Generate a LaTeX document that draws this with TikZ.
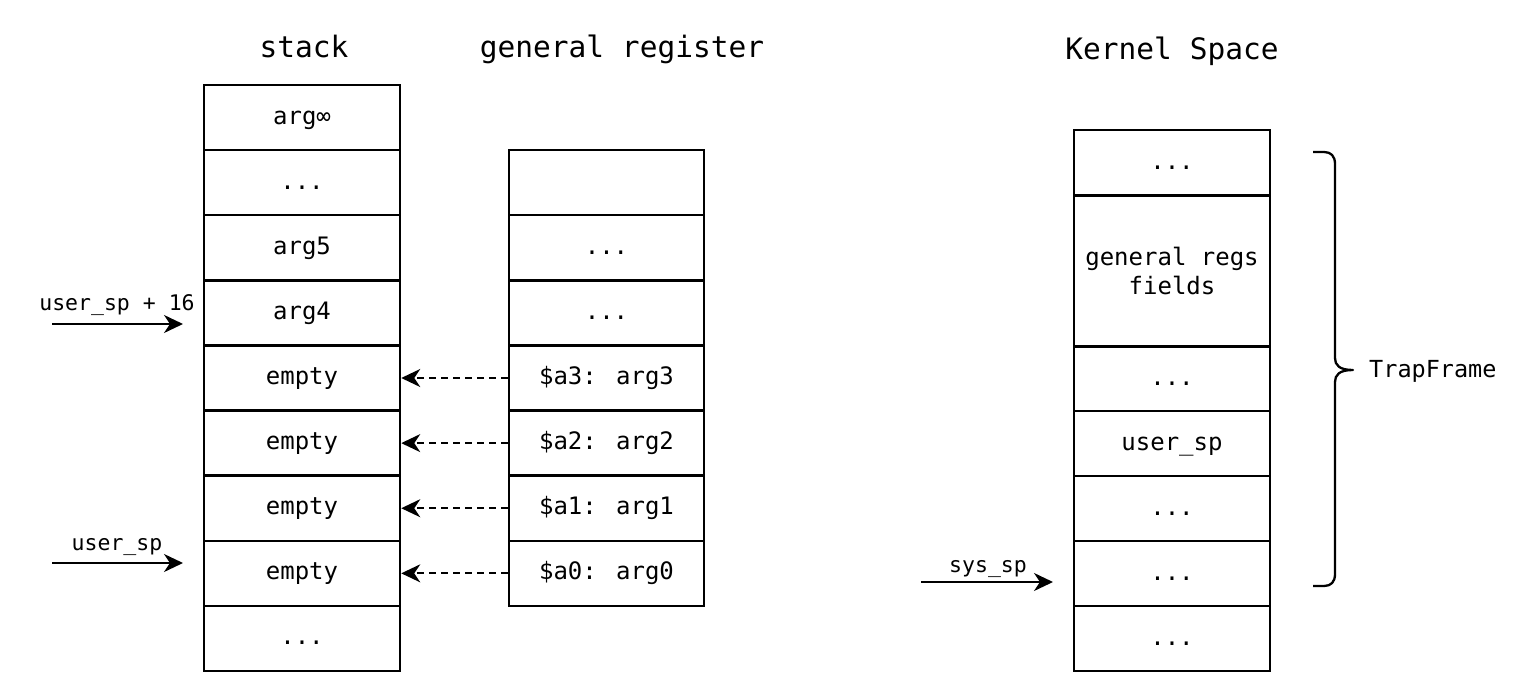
\documentclass[tikz,border=0pt]{standalone}
\usepackage{fontspec}
\setmainfont{DejaVu Sans Mono}
\usetikzlibrary{arrows.meta}
\newcommand\mydots{...}
\tikzset{
  cell/.style={draw, line width=2.5pt, minimum width=196pt, inner sep=0pt, font=\fontsize{24}{29}\selectfont, align=center},
  one/.style={text height=13pt, text depth=0pt},
  ttl/.style={inner sep=0pt, anchor=base, font=\fontsize{29.5}{34}\selectfont},
  lbl/.style={inner sep=0pt, anchor=base, font=\fontsize{21.5}{26}\selectfont},
  ptr/.style={line width=2.3pt, -{Stealth[length=19pt,width=18pt,inset=6pt]}},
  dptr/.style={line width=2pt, dash pattern=on 7pt off 5pt, -{Stealth[length=19pt,width=18pt,inset=6pt]}},
}
\begin{document}
\begin{tikzpicture}[x=1pt,y=-1pt]
\useasboundingbox (0,0) rectangle (1535,681);
\def\rh{65.11}
% titles
\node[ttl] (tstack) at (304,57) {stack};
\node[ttl] (treg) at (622,57) {general register};
\node[ttl] (tkern) at (1172,59) {Kernel Space};
% stack column
\foreach \i/\t in {0/{arg∞},1/{\mydots},2/{arg5},3/{arg4},4/{empty},5/{empty},6/{empty},7/{empty},8/{\mydots}}{
  \node[cell, one, minimum height=\rh pt] (s\i) at (302,{85+\rh*(\i+0.5)}) {\t};
}
% register column
\foreach \i/\t in {1/{},2/{\mydots},3/{\mydots},4/{\$a3: arg3},5/{\$a2: arg2},6/{\$a1: arg1},7/{\$a0: arg0}}{
  \node[cell, one, minimum height=\rh pt, minimum width=195pt] (r\i) at (606.5,{85+\rh*(\i+0.5)}) {\t};
}
% kernel column
\node[cell, one, minimum height=65pt] (k0) at (1172,162.5) {\mydots};
\node[cell, minimum height=151pt] (k1) at (1172,271) {general regs\\fields};
\foreach \i/\t in {2/{\mydots},3/{user\_sp},4/{\mydots},5/{\mydots},6/{\mydots}}{
  \node[cell, one, minimum height=65pt] (k\i) at (1172,{346+65*(\i-2)+32.5}) {\t};
}
% dashed arrows
\foreach \i in {4,5,6,7}{
  \draw[dptr] (r\i.west) -- (s\i.east);
}
% pointers
\coordinate (p1) at (52,324);
\coordinate (p1e) at (183,324);
\draw[ptr] (p1) -- (p1e);
\node[lbl] (l1) at (117,310) {user\_sp + 16};
\coordinate (p2) at (52,563);
\coordinate (p2e) at (183,563);
\draw[ptr] (p2) -- (p2e);
\node[lbl] (l2) at (117,550) {user\_sp};
\coordinate (p3) at (921,582);
\coordinate (p3e) at (1053,582);
\draw[ptr] (p3) -- (p3e);
\node[lbl] (l3) at (988,572) {sys\_sp};
% brace
\draw[line width=2.3pt, line join=round]
  (1313,152) -- (1324,152) .. controls (1331,152) and (1335,156) .. (1335,164)
  -- (1335,358) .. controls (1335,365) and (1339,370) .. (1353,370)
  .. controls (1339,370) and (1335,375) .. (1335,382)
  -- (1335,574) .. controls (1335,582) and (1331,586) .. (1324,586) -- (1313,586);
\node[lbl, font=\fontsize{23.5}{28}\selectfont, anchor=base west] (tf) at (1369,377) {TrapFrame};
\end{tikzpicture}
\end{document}
